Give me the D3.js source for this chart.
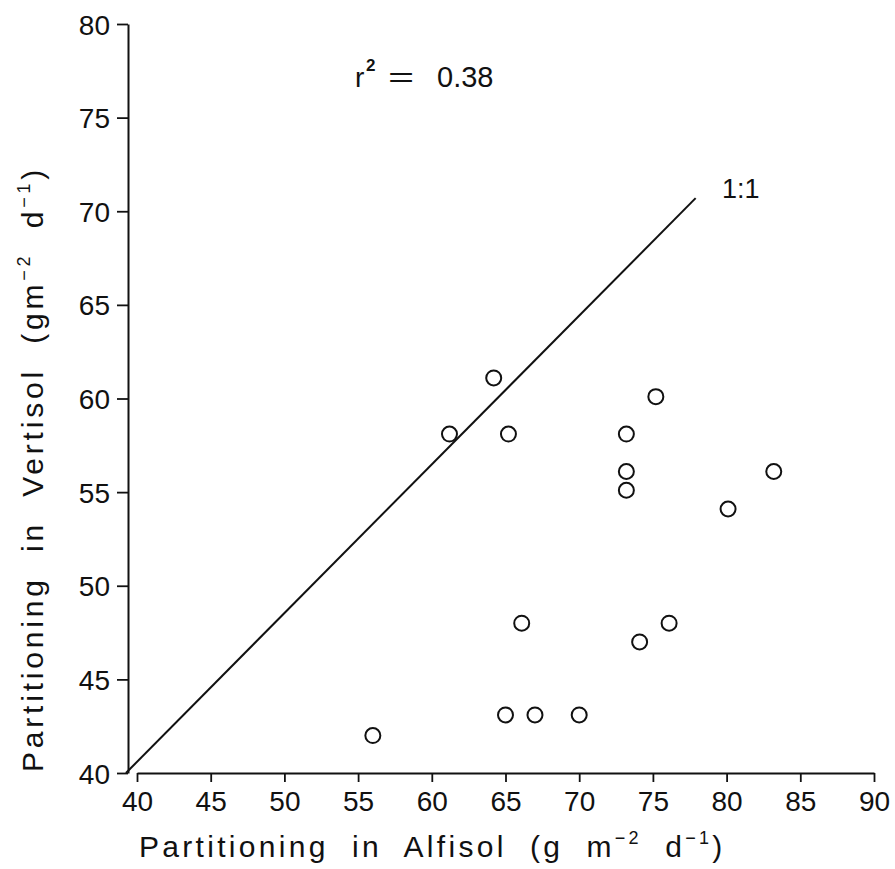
<!DOCTYPE html>
<html>
<head>
<meta charset="utf-8">
<script src="https://cdn.jsdelivr.net/npm/d3@7"></script>
<style>
  body { margin: 0; background: #fff; }
  text { font-family: "Liberation Sans", Arial, sans-serif; fill: #111; white-space: pre; }
</style>
</head>
<body>
<svg id="chart" width="895" height="869"></svg>
<script>
// values
let alfisol  = [64.2, 75.2, 61.2, 65.2, 73.2, 73.2, 73.2, 83.2, 80.1, 66.1, 76.1, 74.1, 65.0, 67.0, 70.0, 56.0];
let vertisol = [61.1, 60.1, 58.1, 58.1, 58.1, 56.1, 55.1, 56.1, 54.1, 48.0, 48.0, 47.0, 43.1, 43.1, 43.1, 42.0];
let xTicks = [40, 45, 50, 55, 60, 65, 70, 75, 80, 85, 90];
let yTicks = [40, 45, 50, 55, 60, 65, 70, 75, 80];
// the drawn "1:1" line, its two ends in data units
let oneToOne = [[39.25, 40], [77.9, 70.7]];

let svg = d3.select("#chart");

let x = d3.scaleLinear().domain([40, 90]).range([137, 874]);
let y = d3.scaleLinear().domain([40, 80]).range([773, 24]);

// y axis
let yAxis = svg.append("g")
    .attr("transform", "translate(128,0)")
    .call(d3.axisLeft(y).tickValues(yTicks).tickSize(11).tickSizeOuter(0).tickPadding(7));
// x axis
let xAxis = svg.append("g")
    .attr("transform", "translate(0,773)")
    .call(d3.axisBottom(x).tickValues(xTicks).tickSize(9).tickSizeOuter(0).tickPadding(9));

[yAxis, xAxis].forEach(function (g) {
    g.select(".domain").attr("stroke", "#111").attr("stroke-width", 2);
    g.selectAll(".tick line").attr("stroke", "#111").attr("stroke-width", 1.8);
    g.selectAll(".tick text").attr("font-size", 28).style("fill", "#111");
});
yAxis.selectAll(".tick text").attr("dy", "0.36em");
xAxis.selectAll(".tick text").attr("dy", "0.72em");

// 1:1 line
svg.append("path")
    .attr("d", d3.line().x(d => x(d[0])).y(d => y(d[1]))(oneToOne))
    .attr("fill", "none")
    .attr("stroke", "#111")
    .attr("stroke-width", 2);

// points
svg.append("g").selectAll("circle")
    .data(alfisol)
    .join("circle")
    .attr("cx", d => x(d))
    .attr("cy", (d, i) => y(vertisol[i]))
    .attr("r", 7.5)
    .attr("fill", "none")
    .attr("stroke", "#111")
    .attr("stroke-width", 2);

// annotations
svg.append("text").attr("x", 355).attr("y", 87).attr("font-size", 28).text("r");
svg.append("text").attr("x", 366).attr("y", 71).attr("font-size", 17).attr("font-weight", "bold").text("2");
svg.append("text").attr("x", 401).attr("y", 87).attr("font-size", 28)
    .attr("text-anchor", "middle").attr("transform", "translate(401,0) scale(1.6,1) translate(-401,0)").text("=");
svg.append("text").attr("x", 437).attr("y", 87).attr("font-size", 29).text("0.38");

svg.append("text").attr("x", 722).attr("y", 198).attr("font-size", 27).text("1:1");

// axis titles
let xt = svg.append("text").attr("x", 139).attr("y", 857).attr("font-size", 30).attr("letter-spacing", 3.3);
xt.append("tspan").text("Partitioning  in  Alfisol  (g  m");
xt.append("tspan").attr("font-size", 18).attr("dy", -13).text("−2");
xt.append("tspan").attr("dy", 13).text("  d");
xt.append("tspan").attr("font-size", 18).attr("dy", -13).text("−1");
xt.append("tspan").attr("dy", 13).text(")");

let yt = svg.append("text")
    .attr("transform", "translate(43,772) rotate(-90)")
    .attr("font-size", 30).attr("letter-spacing", 3.8);
yt.append("tspan").text("Partitioning  in  Vertisol  (gm");
yt.append("tspan").attr("font-size", 18).attr("dy", -13).text("−2");
yt.append("tspan").attr("dy", 13).text("  d");
yt.append("tspan").attr("font-size", 18).attr("dy", -13).text("−1");
yt.append("tspan").attr("dy", 13).text(")");
</script>
</body>
</html>
